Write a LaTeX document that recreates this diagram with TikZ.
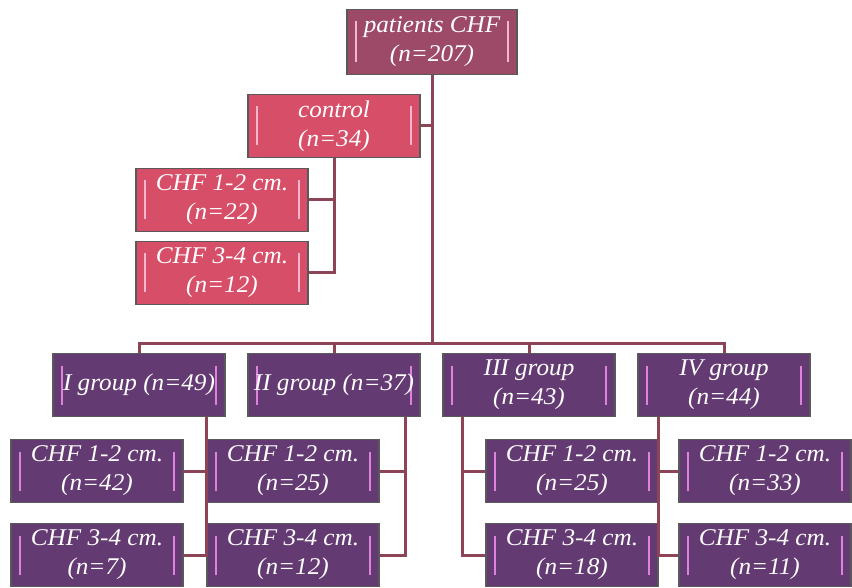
\documentclass[tikz,border=0pt]{standalone}
\usepackage{fontspec}
\setmainfont[FakeStretch=1.05]{Liberation Serif}
\usepackage{tikz}

\definecolor{rootfill}{RGB}{156,74,104}
\definecolor{ctrlfill}{RGB}{214,78,104}
\definecolor{grpfill}{RGB}{100,58,114}
\definecolor{linkcol}{RGB}{140,68,86}
\definecolor{barpink}{RGB}{246,180,206}
\definecolor{barmag}{RGB}{222,130,222}

\tikzset{
  box/.style={draw=black!65, line width=1.2pt, minimum width=172pt, minimum height=63pt,
    inner sep=0pt, align=center, text=white,
    font=\itshape\fontsize{24}{29}\selectfont,
    path picture={
      \draw[#1, line width=2.2pt]
        ([xshift=9pt,yshift=-12pt]path picture bounding box.north west) --
        ([xshift=9pt,yshift=12pt]path picture bounding box.south west);
      \draw[#1, line width=2.2pt]
        ([xshift=-9pt,yshift=-12pt]path picture bounding box.north east) --
        ([xshift=-9pt,yshift=12pt]path picture bounding box.south east);}},
  rootbox/.style={box=barpink, fill=rootfill, minimum width=170pt, minimum height=65pt},
  ctrlbox/.style={box=barpink, fill=ctrlfill},
  grpbox/.style={box=barmag, fill=grpfill},
  link/.style={draw=linkcol, line width=3pt}
}

\begin{document}
\begin{tikzpicture}[x=1pt,y=-1pt]
  \useasboundingbox (0,0) rectangle (852,588);
  % top and control branch
  \node[rootbox] (pat)   at (432,42)  {patients CHF\\(n=207)};
  \node[ctrlbox] (ctrl)  at (334,126) {control\\(n=34)};
  \node[ctrlbox] (ctrlA) at (222,200) {CHF 1-2 cm.\\(n=22)};
  \node[ctrlbox] (ctrlB) at (222,273) {CHF 3-4 cm.\\(n=12)};
  % groups
  \node[grpbox] (gI)   at (139,385) {I group (n=49)};
  \node[grpbox] (gII)  at (334,385) {II group (n=37)};
  \node[grpbox] (gIII) at (529,385) {III group\\(n=43)};
  \node[grpbox] (gIV)  at (724,385) {IV group\\(n=44)};
  % sub-groups, rows at y=471 and y=555
  \node[grpbox] (gIa)   at (97,471)  {CHF 1-2 cm.\\(n=42)};
  \node[grpbox] (gIb)   at (97,555)  {CHF 3-4 cm.\\(n=7)};
  \node[grpbox] (gIIa)  at (293,471) {CHF 1-2 cm.\\(n=25)};
  \node[grpbox] (gIIb)  at (293,555) {CHF 3-4 cm.\\(n=12)};
  \node[grpbox] (gIIIa) at (572,471) {CHF 1-2 cm.\\(n=25)};
  \node[grpbox] (gIIIb) at (572,555) {CHF 3-4 cm.\\(n=18)};
  \node[grpbox] (gIVa)  at (765,471) {CHF 1-2 cm.\\(n=33)};
  \node[grpbox] (gIVb)  at (765,555) {CHF 3-4 cm.\\(n=11)};

  \coordinate (bar)  at (432,343);
  \coordinate (jII)  at (405,555);
  \coordinate (jIII) at (462,555);

  % trunk and bar
  \draw[link] (pat.south) -- (bar);
  \draw[link] (ctrl.east) -- (ctrl.east -| bar);
  \draw[link] (gI.north) -- (gI.north |- bar) -- (gIV.north |- bar) -- (gIV.north);
  \draw[link] (gII.north) -- (gII.north |- bar);
  \draw[link] (gIII.north) -- (gIII.north |- bar);
  % control branch
  \draw[link] (ctrl.south) -- (ctrl.south |- ctrlB.east) -- (ctrlB.east);
  \draw[link] (ctrlA.east) -- (ctrlA.east -| ctrl.south);
  % group I
  \draw[link] (gI.south -| gIIa.west) -- (gIIa.west |- gIb.east) -- (gIb.east);
  \draw[link] (gIa.east) -- (gIa.east -| gIIa.west);
  % group II
  \draw[link] (gII.south -| jII) -- (jII) -- (gIIb.east);
  \draw[link] (gIIa.east) -- (gIIa.east -| jII);
  % group III
  \draw[link] (gIII.south -| jIII) -- (jIII) -- (gIIIb.west);
  \draw[link] (gIIIa.west) -- (gIIIa.west -| jIII);
  % group IV
  \draw[link] (gIV.south -| gIIIa.east) -- (gIIIa.east |- gIVb.west) -- (gIVb.west);
  \draw[link] (gIVa.west) -- (gIVa.west -| gIIIa.east);
\end{tikzpicture}
\end{document}
